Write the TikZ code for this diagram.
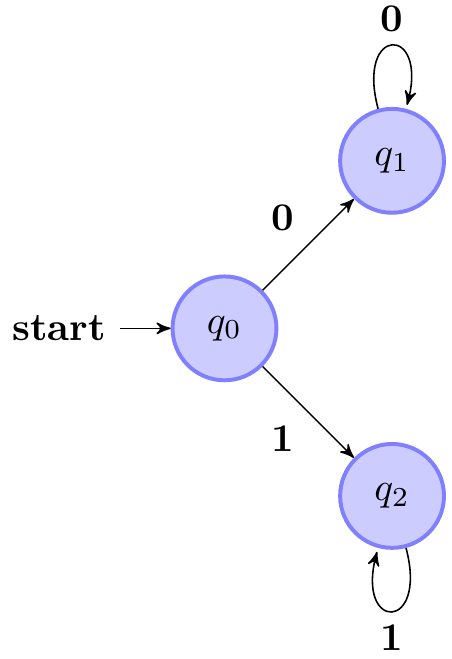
\documentclass[tikz,border=0pt]{standalone}
\usepackage{amsmath}
\usepackage{tikz}
\usetikzlibrary{automata, positioning, arrows}
\tikzset{
	->, % make all edges directed
	>=stealth', % make all arrow heads bold
	node distance = 1.5cm, % min distance between 2 nodes
	every state/.style={line width=1pt, draw=blue!50, fill=blue!20, minimum size=0.93cm}, % sets the properties for each state node
	initial text=\textbf{start}, % sets the taxt that appears on the start arrow
}

\begin{document}
\begin{tikzpicture}
		\useasboundingbox (-2.01,-2.96) rectangle (2.03,2.94);
		\node[state, initial] (q0) at (0,0) {$q_0$};
		\node[state] (q1) at (1.5,1.5) {$q_1$};
		\node[state] (q2) at (1.5,-1.5) {$q_2$};
		
		\draw (q0) edge node[above left] {\textbf{0}} (q1)
		      (q0) edge node[below left] {\textbf{1}} (q2)
		      (q1) edge[loop above] node[above] {\textbf{0}} (q1)
		      (q2) edge[loop below] node[below] {\textbf{1}} (q2);
\end{tikzpicture}
\end{document}
